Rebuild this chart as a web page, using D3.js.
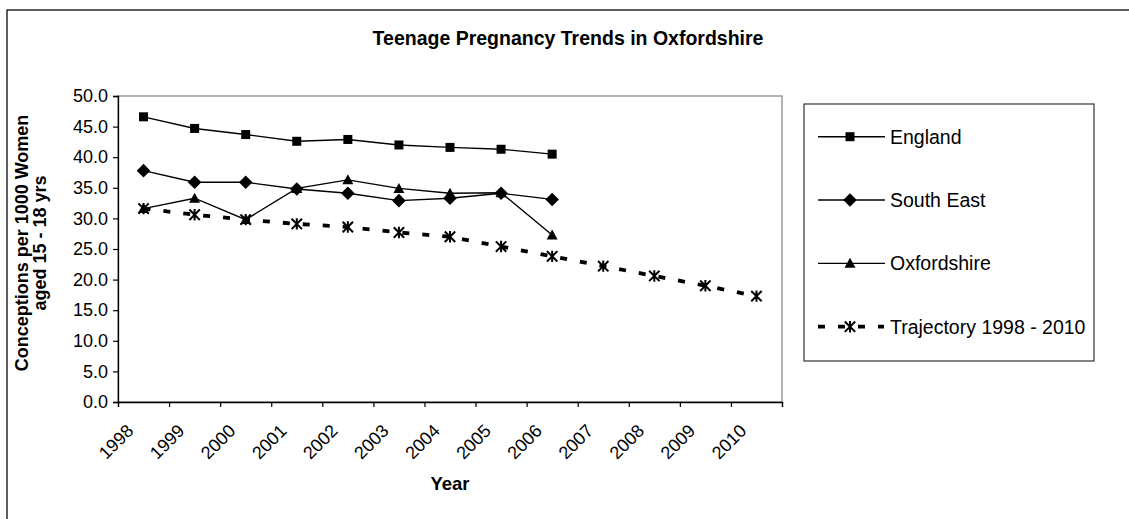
<!DOCTYPE html>
<html>
<head>
<meta charset="utf-8">
<script src="https://cdn.jsdelivr.net/npm/d3@7"></script>
<style>
  html, body { margin: 0; padding: 0; background: #fff; }
  svg { display: block; font-family: "Liberation Sans", Arial, sans-serif; }
</style>
</head>
<body>
<svg id="chart" width="1129" height="519"></svg>
<script>
// ---- data ----
const years = ["1998","1999","2000","2001","2002","2003","2004","2005","2006","2007","2008","2009","2010"];
const england     = [46.6, 44.7, 43.7, 42.6, 42.9, 42.0, 41.6, 41.3, 40.5];
const southEast   = [37.8, 35.9, 35.9, 34.8, 34.1, 32.9, 33.3, 34.1, 33.1];
const oxfordshire = [31.6, 33.3, 29.8, 34.9, 36.3, 34.9, 34.1, 34.2, 27.3];
const trajectory  = [31.6, 30.6, 29.8, 29.1, 28.6, 27.7, 27.0, 25.4, 23.8, 22.2, 20.6, 19.0, 17.3];
const yTicks = [0, 5, 10, 15, 20, 25, 30, 35, 40, 45, 50];
const seriesNames = ["England", "South East", "Oxfordshire", "Trajectory 1998 - 2010"];
const chartTitle = "Teenage Pregnancy Trends in Oxfordshire";
const xTitle = "Year";
const yTitleLines = ["Conceptions per 1000 Women", "aged 15 - 18 yrs"];

// ---- layout ----
const svg = d3.select("#chart");
const plot = { left: 118, right: 782, top: 96, bottom: 402 };

const x = d3.scaleBand().domain(years).range([plot.left, plot.right]).padding(0);
const xb = d3.scaleLinear().domain([0, years.length]).range([plot.left, plot.right]);
const y = d3.scaleLinear().domain([0, 50]).range([plot.bottom, plot.top]);
const cx = d => x(d) + x.bandwidth() / 2;

// outer chart frame
svg.append("rect").attr("x", 7).attr("y", 10).attr("width", 1200).attr("height", 600)
  .attr("fill", "#fff").attr("stroke", "#1a1a1a").attr("stroke-width", 1.4);

// title
svg.append("text").attr("x", 568).attr("y", 45).attr("text-anchor", "middle")
  .attr("font-size", 19.5).attr("font-weight", "bold").attr("fill", "#000").text(chartTitle);

// plot area frame (top/right grey)
svg.append("rect").attr("x", plot.left).attr("y", plot.top)
  .attr("width", plot.right - plot.left).attr("height", plot.bottom - plot.top)
  .attr("fill", "#fff").attr("stroke", "#8c8c8c").attr("stroke-width", 1.3);

// y axis
const yAxis = svg.append("g").attr("transform", `translate(${plot.left},0)`)
  .call(d3.axisLeft(y).tickValues(yTicks).tickSize(5).tickPadding(5).tickFormat(d3.format(".1f")));
yAxis.select(".domain").attr("stroke", "#000").attr("stroke-width", 1.3);
yAxis.selectAll(".tick line").attr("stroke", "#000").attr("stroke-width", 1.2);
yAxis.selectAll(".tick text").attr("font-size", 18).attr("fill", "#000")
  .attr("font-family", "Liberation Sans, Arial, sans-serif");

// x axis (ticks at category boundaries)
const xAxis = svg.append("g").attr("transform", `translate(0,${plot.bottom})`)
  .call(d3.axisBottom(xb).tickValues(d3.range(0, years.length + 1)).tickSize(5).tickFormat(""));
xAxis.select(".domain").attr("stroke", "#000").attr("stroke-width", 1.3);
xAxis.selectAll(".tick line").attr("stroke", "#000").attr("stroke-width", 1.2);

svg.append("g").selectAll("text").data(years).join("text")
  .attr("transform", d => `translate(${cx(d) - 9},${plot.bottom + 30}) rotate(-45)`)
  .attr("text-anchor", "end").attr("font-size", 18).attr("fill", "#000").text(d => d);

// axis titles
svg.append("text").attr("x", (plot.left + plot.right) / 2).attr("y", 490)
  .attr("text-anchor", "middle").attr("font-size", 18.5).attr("font-weight", "bold").text(xTitle);
const yt = svg.append("text").attr("transform", "translate(28,243) rotate(-90)")
  .attr("text-anchor", "middle").attr("font-size", 18).attr("font-weight", "bold");
yt.append("tspan").attr("x", 0).attr("dy", 0).text(yTitleLines[0]);
yt.append("tspan").attr("x", 0).attr("dy", 17.5).text(yTitleLines[1]);

// ---- markers ----
function drawMarker(g, type, px, py) {
  if (type === "square") {
    g.append("rect").attr("x", px - 4.5).attr("y", py - 4.5).attr("width", 9).attr("height", 9).attr("fill", "#000");
  } else if (type === "diamond") {
    const r = 6.8;
    g.append("path").attr("d", `M${px},${py - r}L${px + r},${py}L${px},${py + r}L${px - r},${py}Z`).attr("fill", "#000");
  } else if (type === "triangle") {
    g.append("path").attr("d", `M${px},${py - 5.5}L${px + 5.5},${py + 4.5}L${px - 5.5},${py + 4.5}Z`).attr("fill", "#000");
  } else if (type === "star") {
    const r = 5.2;
    g.append("path").attr("d",
      `M${px - r},${py - r}L${px + r},${py + r}M${px - r},${py + r}L${px + r},${py - r}M${px},${py - r - 0.5}L${px},${py + r + 0.5}`)
      .attr("stroke", "#000").attr("stroke-width", 2).attr("fill", "none");
  }
}

const series = [
  { name: seriesNames[0], values: england, marker: "square", dash: null, width: 1.4 },
  { name: seriesNames[1], values: southEast, marker: "diamond", dash: null, width: 1.4 },
  { name: seriesNames[2], values: oxfordshire, marker: "triangle", dash: null, width: 1.4 },
  { name: seriesNames[3], values: trajectory, marker: "star", dash: "7,13", width: 3.8 }
];

const line = d3.line().x(d => cx(d.year)).y(d => y(d.value));
const seriesG = svg.append("g");
series.forEach(s => {
  const pts = s.values.map((v, i) => ({ year: years[i], value: v }));
  const g = seriesG.append("g");
  g.append("path").datum(pts).attr("d", line).attr("fill", "none").attr("stroke", "#000")
    .attr("stroke-width", s.width).attr("stroke-dasharray", s.dash);
  pts.forEach(p => drawMarker(g, s.marker, cx(p.year), y(p.value)));
});

// ---- legend ----
const lg = svg.append("g");
lg.append("rect").attr("x", 804).attr("y", 104).attr("width", 290).attr("height", 257)
  .attr("fill", "#fff").attr("stroke", "#333").attr("stroke-width", 1.2);
const legendY = d3.scalePoint().domain(seriesNames).range([136.7, 326.7]);
series.forEach(s => {
  const ly = legendY(s.name);
  const g = lg.append("g");
  if (s.dash) {
    g.append("path").attr("d", `M818,${ly}L884,${ly}`).attr("stroke", "#000")
      .attr("stroke-width", s.width).attr("stroke-dasharray", "7,13").attr("stroke-dashoffset", 0);
  } else {
    g.append("path").attr("d", `M818,${ly}L885,${ly}`).attr("stroke", "#000").attr("stroke-width", s.width);
  }
  drawMarker(g, s.marker, 850, ly);
  g.append("text").attr("x", 890).attr("y", ly + 6.8).attr("font-size", 19.5).attr("fill", "#000").text(s.name);
});
</script>
</body>
</html>
